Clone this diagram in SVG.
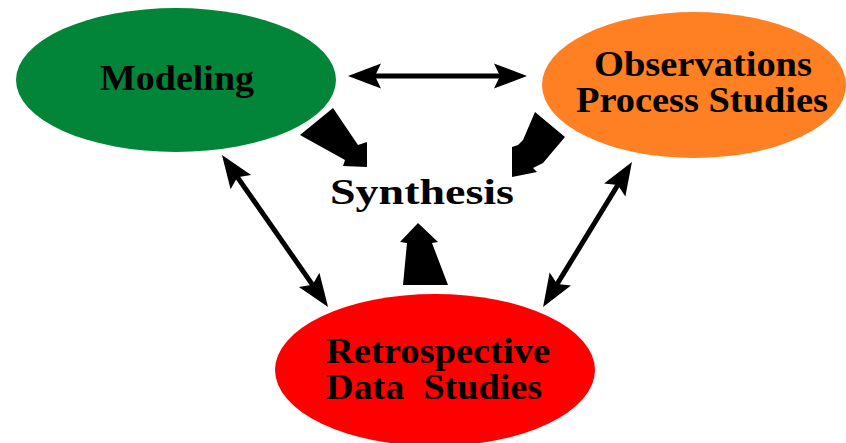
<svg xmlns="http://www.w3.org/2000/svg" width="846" height="443" viewBox="0 0 846 443">
<style>
.lbl{font-family:"Liberation Serif","Times New Roman",serif;font-size:35px;font-weight:bold;fill:#000}
.con{stroke:#000;stroke-width:5;fill:none}
.fat{fill:#000}
</style>
<defs>
<marker id="ah" markerUnits="userSpaceOnUse" markerWidth="40" markerHeight="30" refX="0" refY="0" viewBox="-15 -15 40 30" orient="auto-start-reverse" overflow="visible">
<path d="M20,0 L-13,-12.5 L-7,0 L-13,12.5 Z" fill="#000"/>
</marker>
</defs>
<rect width="846" height="443" fill="#fff"/>
<g id="modeling">
<ellipse cx="176" cy="80" rx="160" ry="72" fill="#038539"/>
<text class="lbl" x="100" y="90" textLength="154" lengthAdjust="spacingAndGlyphs">Modeling</text>
</g>
<g id="observations">
<ellipse cx="694" cy="85" rx="152" ry="73" fill="#ff8022"/>
<text class="lbl" x="594" y="76" textLength="218" lengthAdjust="spacingAndGlyphs">Observations</text>
<text class="lbl" x="576" y="112" textLength="252" lengthAdjust="spacingAndGlyphs">Process Studies</text>
</g>
<g id="retrospective">
<ellipse cx="435" cy="370" rx="160" ry="76" fill="#ff0000"/>
<text class="lbl" x="326" y="363" textLength="224" lengthAdjust="spacingAndGlyphs">Retrospective</text>
<text class="lbl" x="326" y="399" textLength="216" lengthAdjust="spacingAndGlyphs" xml:space="preserve">Data  Studies</text>
</g>
<g id="synthesis">
<text class="lbl" x="330" y="204" font-size="36" textLength="184" lengthAdjust="spacingAndGlyphs">Synthesis</text>
</g>
<g id="connectors">
<line class="con" x1="368" y1="76" x2="507" y2="76" marker-start="url(#ah)" marker-end="url(#ah)"/>
<line class="con" x1="233.4" y1="171.4" x2="316.6" y2="290.6" marker-start="url(#ah)" marker-end="url(#ah)"/>
<line class="con" x1="621.5" y1="179" x2="553.5" y2="290" marker-start="url(#ah)" marker-end="url(#ah)"/>
<polygon class="fat" points="333,108 358,145 367,142 367,167 343,166 345,160 300,135"/>
<polygon class="fat" points="535,112 565,137 543,163 533,168 537,172 512,177 512,147 518,145 523,140"/>
<polygon class="fat" points="418,223 438,242 432,243 448,285 403,285 407,243 400,242"/>
</g>
</svg>
